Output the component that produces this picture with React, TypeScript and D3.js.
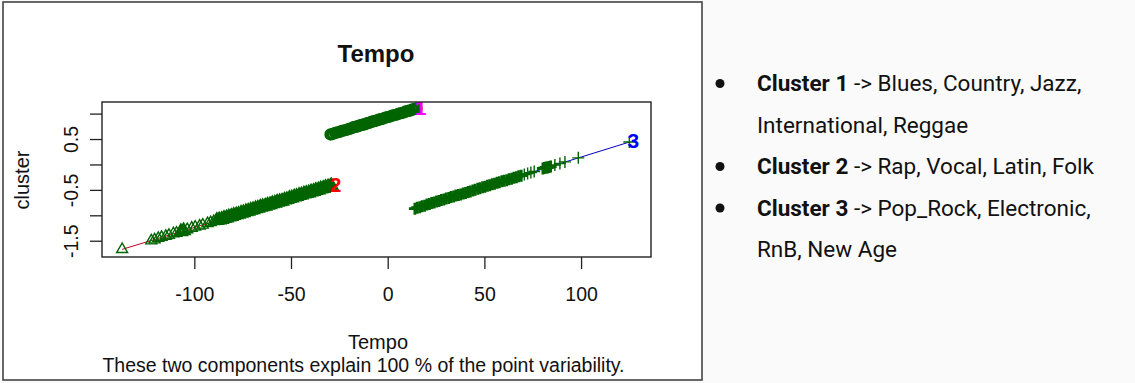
import React from "react";
import * as d3 from "d3";

// ---------- data ----------
const xTicks = [-100, -50, 0, 50, 100];
const yTicks = [-1.5, -1.0, -0.5, 0, 0.5, 1.0];
const yTickLabels = ["-1.5", "-0.5", "0.5"];
const yLabelTicks = [-1.5, -0.5, 0.5];

// cluster 1 (circles): [Tempo, cluster]
const cluster1: [number, number][] = [
  [-29.8, 0.6], [-28.7, 0.61], [-27.4, 0.63], [-26.3, 0.64], [-25.1, 0.65], [-24.0, 0.67],
  [-22.7, 0.68], [-21.6, 0.69], [-20.3, 0.71], [-19.2, 0.72], [-18.0, 0.74], [-16.8, 0.75],
  [-15.7, 0.76], [-14.4, 0.78], [-13.3, 0.79], [-12.1, 0.8], [-10.9, 0.82], [-9.8, 0.83],
  [-8.5, 0.85], [-7.4, 0.86], [-6.2, 0.87], [-5.0, 0.89], [-3.9, 0.9], [-2.7, 0.91],
  [-1.5, 0.93], [-0.4, 0.94], [0.8, 0.95], [2.0, 0.97], [3.1, 0.98], [4.3, 0.99],
  [5.5, 1.01], [6.6, 1.02], [7.8, 1.03], [9.0, 1.05], [10.1, 1.06], [11.3, 1.07],
  [12.5, 1.09], [13.6, 1.1], [14.7, 1.11],
];

// cluster 2 (triangles)
const cluster2: [number, number][] = [
  [-137.6, -1.66],
  [-122.5, -1.49], [-120.8, -1.47], [-118.9, -1.44], [-117.2, -1.42], [-115.0, -1.4],
  [-113.4, -1.38], [-111.1, -1.35], [-109.5, -1.34], [-107.2, -1.31], [-105.8, -1.29],
  [-103.9, -1.27], [-101.6, -1.24], [-99.8, -1.22], [-97.5, -1.2], [-95.9, -1.18],
  [-93.4, -1.15], [-91.8, -1.13], [-90.2, -1.11],
  [-88.6, -1.09], [-87.4, -1.08], [-86.1, -1.07], [-84.9, -1.05], [-83.6, -1.04], [-82.4, -1.02],
  [-81.1, -1.01], [-79.9, -0.99], [-78.6, -0.98], [-77.4, -0.97], [-76.1, -0.95], [-74.9, -0.94],
  [-73.6, -0.92], [-72.4, -0.91], [-71.1, -0.89], [-69.9, -0.88], [-68.6, -0.86], [-67.4, -0.85],
  [-66.1, -0.83], [-64.9, -0.82], [-63.6, -0.81], [-62.4, -0.79], [-61.1, -0.78], [-59.9, -0.76],
  [-58.6, -0.75], [-57.4, -0.73], [-56.1, -0.72], [-54.9, -0.71], [-53.6, -0.69], [-52.4, -0.68],
  [-51.1, -0.66], [-49.9, -0.65], [-48.6, -0.63], [-47.4, -0.62], [-46.1, -0.6], [-44.9, -0.59],
  [-43.6, -0.57], [-42.4, -0.56], [-41.1, -0.55], [-39.9, -0.53], [-38.6, -0.52], [-37.4, -0.5],
  [-36.1, -0.49], [-34.9, -0.47], [-33.6, -0.46], [-32.4, -0.44], [-31.1, -0.43], [-29.9, -0.42],
  [-29.3, -0.41],
];

// cluster 3 (crosses)
const cluster3: [number, number][] = [
  [13.8, -0.86], [15.0, -0.84], [16.3, -0.83], [17.5, -0.81], [18.8, -0.8], [20.0, -0.78],
  [21.3, -0.77], [22.5, -0.75], [23.8, -0.74], [25.0, -0.72], [26.3, -0.71], [27.5, -0.69],
  [28.8, -0.68], [30.0, -0.66], [31.3, -0.65], [32.5, -0.63], [33.8, -0.62], [35.0, -0.6],
  [36.3, -0.59], [37.5, -0.58], [38.8, -0.56], [40.0, -0.55], [41.3, -0.53], [42.5, -0.52],
  [43.8, -0.5], [45.0, -0.49], [46.3, -0.47], [47.5, -0.46], [48.8, -0.44], [50.0, -0.43],
  [51.3, -0.41], [52.5, -0.4], [53.8, -0.38], [55.0, -0.37], [56.3, -0.35], [57.5, -0.34],
  [58.8, -0.32], [60.0, -0.31], [61.3, -0.3], [62.5, -0.28], [63.8, -0.27], [65.0, -0.25],
  [66.3, -0.24], [67.5, -0.22], [68.8, -0.21],
  [70.4, -0.19], [72.1, -0.17], [73.8, -0.15], [75.5, -0.13],
  [80.0, -0.07], [80.8, -0.06], [81.6, -0.05], [82.4, -0.05], [83.2, -0.04], [84.0, -0.03],
  [86.2, 0.0], [88.8, 0.03], [91.4, 0.06], [98.3, 0.14], [124.7, 0.45],
];

// cluster segments (degenerate ellipses) and labels
const clusterNames = ["1", "2", "3"];
const clusterEnds: [number, number][][] = [
  [[-29.8, 0.6], [14.7, 1.11]],
  [[-137.6, -1.66], [-29.3, -0.41]],
  [[13.8, -0.86], [124.7, 0.45]],
];
const clusterColors = ["#ff00ff", "#ff0000", "#0000ff"];
const lineColors = ["#cc00cc", "#c00020", "#0000c0"];

const bullets = [
  { bold: "Cluster 1", rest: " -> Blues, Country, Jazz,", cont: "International, Reggae" },
  { bold: "Cluster 2", rest: " -> Rap, Vocal, Latin, Folk", cont: null },
  { bold: "Cluster 3", rest: " -> Pop_Rock, Electronic,", cont: "RnB, New Age" },
];

const W = 1135;
const H = 383;
const plot = { left: 102, right: 651, top: 102, bottom: 257 };
const GREEN = "#006400";
const FONT = "'Liberation Sans', Arial, Helvetica, sans-serif";

// stroke weight: overlapping (tightly spaced) points merge into a solid band
function weights(pts: [number, number][]) {
  return pts.map((p, i) => {
    const prev = i > 0 ? p[0] - pts[i - 1][0] : Infinity;
    const next = i < pts.length - 1 ? pts[i + 1][0] - p[0] : Infinity;
    return Math.min(prev, next) < 1.5 ? 2.8 : 1.4;
  });
}

export default function App() {
  const x = d3.scaleLinear().domain([-148, 135.9]).range([plot.left, plot.right]);
  const y = d3.scaleLinear().domain([-1.81, 1.238]).range([plot.bottom, plot.top]);

  const triPath = (cx: number, cy: number) => {
    const s = 11;
    const h = s * 0.866;
    return `M${cx},${cy - (h * 2) / 3}L${cx - s / 2},${cy + h / 3}L${cx + s / 2},${cy + h / 3}Z`;
  };
  const plusPath = (cx: number, cy: number) => {
    const a = 6;
    return `M${cx - a},${cy}H${cx + a}M${cx},${cy - a}V${cy + a}`;
  };
  const line = d3.line<[number, number]>().x((d) => x(d[0])).y((d) => y(d[1]));

  const w1 = weights(cluster1);
  const w2 = weights(cluster2);
  const w3 = weights(cluster3);

  // bullet lines layout
  const lineGap = 41.5;
  const baseY0 = 91;
  const rows: { bullet: boolean; bold?: string; text: string }[] = [];
  bullets.forEach((b) => {
    rows.push({ bullet: true, bold: b.bold, text: b.rest });
    if (b.cont) rows.push({ bullet: false, text: b.cont });
  });

  return (
    <svg width={W} height={H} style={{ display: "block", position: "absolute", left: 0, top: 0 }}>
      <rect x={0} y={0} width={W} height={H} fill="#fafafa" />
      <rect x={3} y={2} width={699} height={378} fill="#ffffff" stroke="#444" strokeWidth={1.6} />
      <defs>
        <clipPath id="plotclip">
          <rect x={plot.left} y={plot.top} width={plot.right - plot.left} height={plot.bottom - plot.top} />
        </clipPath>
      </defs>

      {/* title */}
      <text x={376} y={62} textAnchor="middle" fontFamily={FONT} fontWeight="bold" fontSize={24} fill="#111">
        Tempo
      </text>

      <g clipPath="url(#plotclip)">
        {clusterEnds.map((seg, i) => (
          <path key={"l" + i} d={line(seg) || ""} stroke={lineColors[i]} strokeWidth={1} fill="none" />
        ))}
        {cluster1.map((d, i) => (
          <circle key={"c1" + i} cx={x(d[0])} cy={y(d[1])} r={4.8} fill="none" stroke={GREEN} strokeWidth={w1[i]} />
        ))}
        {cluster2.map((d, i) => (
          <path key={"c2" + i} d={triPath(x(d[0]), y(d[1]))} fill="none" stroke={GREEN} strokeWidth={w2[i]} />
        ))}
        {cluster3.map((d, i) => (
          <path key={"c3" + i} d={plusPath(x(d[0]), y(d[1]))} fill="none" stroke={GREEN} strokeWidth={w3[i]} />
        ))}
        {clusterEnds.map((seg, i) => (
          <text
            key={"t" + i}
            x={x(seg[1][0]) + 4}
            y={y(seg[1][1]) - 1.5}
            textAnchor="middle"
            dominantBaseline="central"
            fontFamily={FONT}
            fontWeight="bold"
            fontSize={21}
            fill={clusterColors[i]}
          >
            {clusterNames[i]}
          </text>
        ))}
      </g>

      {/* plot box */}
      <rect
        x={plot.left}
        y={plot.top}
        width={plot.right - plot.left}
        height={plot.bottom - plot.top}
        fill="none"
        stroke="#222"
        strokeWidth={1.4}
      />

      {/* x axis */}
      {xTicks.map((t) => (
        <g key={"xt" + t}>
          <line x1={x(t)} x2={x(t)} y1={plot.bottom} y2={plot.bottom + 12} stroke="#222" strokeWidth={1.3} />
          <text x={x(t)} y={300.5} textAnchor="middle" fontFamily={FONT} fontSize={19.5} fill="#111">
            {String(t)}
          </text>
        </g>
      ))}

      {/* y axis */}
      {yTicks.map((t) => (
        <line key={"yt" + t} x1={plot.left - 12} x2={plot.left} y1={y(t)} y2={y(t)} stroke="#222" strokeWidth={1.3} />
      ))}
      {yLabelTicks.map((t, i) => (
        <text
          key={"yl" + t}
          transform={`translate(78,${y(t)}) rotate(-90)`}
          textAnchor="middle"
          fontFamily={FONT}
          fontSize={19.5}
          fill="#111"
        >
          {yTickLabels[i]}
        </text>
      ))}

      <text transform={`translate(29,180) rotate(-90)`} textAnchor="middle" fontFamily={FONT} fontSize={20} fill="#111">
        cluster
      </text>
      <text x={378} y={349} textAnchor="middle" fontFamily={FONT} fontSize={20} fill="#111">
        Tempo
      </text>
      <text x={363.5} y={372} textAnchor="middle" fontFamily={FONT} fontSize={19.5} fill="#111">
        These two components explain 100 % of the point variability.
      </text>

      {/* right-hand notes */}
      {rows.map((r, i) => {
        const by = baseY0 + i * lineGap;
        return (
          <g key={"row" + i}>
            {r.bullet && <circle cx={720} cy={by - 7.5} r={4.5} fill="#111" />}
            <text x={757} y={by} fontFamily="Roboto, 'Noto Sans', sans-serif" fontSize={22.5} fill="#111">
              {r.bold && <tspan fontWeight="bold">{r.bold}</tspan>}
              <tspan>{r.text}</tspan>
            </text>
          </g>
        );
      })}
    </svg>
  );
}
